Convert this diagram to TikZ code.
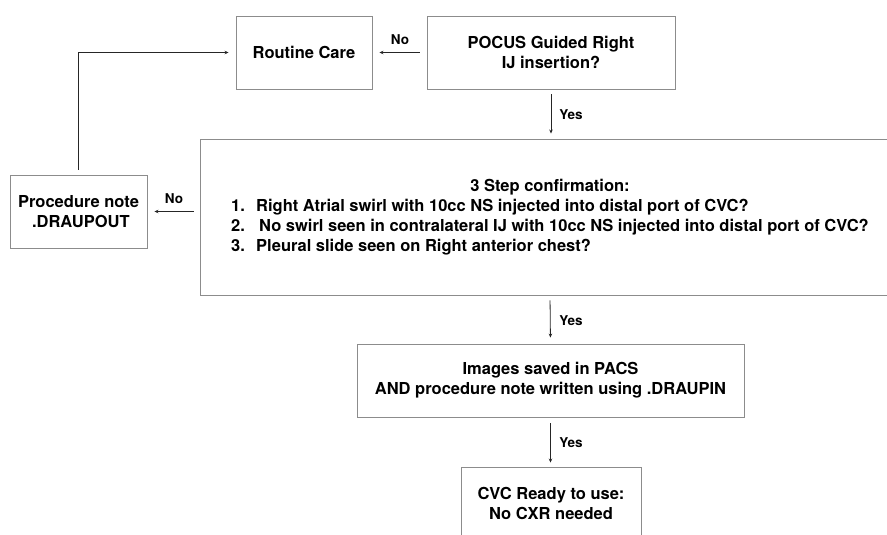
\documentclass[tikz,border=0pt]{standalone}
\usepackage{fontspec}
\setmainfont{TeX Gyre Heros}
\usetikzlibrary{arrows.meta}
\begin{document}
\begin{tikzpicture}[x=1pt,y=-1pt,
  box/.style={draw=black!45, line width=0.9pt, inner sep=0pt, align=center,
    font=\bfseries\fontsize{16.5}{20}\selectfont},
  conn/.style={draw=black!85, line width=0.8pt, -{Stealth[length=4pt,width=3.5pt]}},
  lbl/.style={inner sep=0pt, font=\bfseries\fontsize{13.5}{16}\selectfont}]
\useasboundingbox (0,0) rectangle (887,535);
\clip (0,0) rectangle (887,535);
\node[box, minimum width=136, minimum height=73] (rc) at (304,52.5) {Routine Care};
\node[box, minimum width=248, minimum height=73] (pocus) at (551,52.5) {POCUS Guided Right\\IJ insertion?};
\node[box, minimum width=137, minimum height=73] (pn) at (78.5,211.5) {Procedure note\\\ .DRAUPOUT};
\node[box, minimum width=700, minimum height=156] (step) at (550,217)
  {\begin{tabular}{@{}l@{}}
   \multicolumn{1}{@{}c@{}}{3 Step confirmation:}\\
   \makebox[25pt][l]{1.}Right Atrial swirl with 10cc NS injected into distal port of CVC?\\
   \makebox[28pt][l]{2.}No swirl seen in contralateral IJ with 10cc NS injected into distal port of CVC?\\
   \makebox[25pt][l]{3.}Pleural slide seen on Right anterior chest?
   \end{tabular}};
\node[box, minimum width=387, minimum height=73] (img) at (550.5,380.5) {Images saved in PACS\\AND procedure note written using .DRAUPIN};
\node[box, minimum width=180, minimum height=73] (cvc) at (551,503.5) {CVC Ready to use:\\No CXR needed};
% connectors
\draw[conn, shorten <=7pt, shorten >=7pt] (pocus.west) -- (rc.east);
\draw[conn, shorten <=5pt, shorten >=5pt] (pocus.south) -- (pocus.south |- step.north);
\draw[conn, shorten <=6pt, shorten >=7pt] (step.west |- pn.east) -- (pn.east);
\draw[conn, shorten <=5pt, shorten >=7pt] (pn.north) |- (rc.west);
\draw[conn, shorten <=5pt, shorten >=6pt] (step.south) -- (img.north);
\draw[conn, shorten <=6pt, shorten >=4pt] (img.south) -- (img.south |- cvc.north);
% labels
\node[lbl] (l1) at (400,40) {No};
\node[lbl] (l2) at (174,199) {No};
\node[lbl] (l3) at (571,115) {Yes};
\node[lbl] (l4) at (571,321) {Yes};
\node[lbl] (l5) at (571,443) {Yes};
\end{tikzpicture}
\end{document}
